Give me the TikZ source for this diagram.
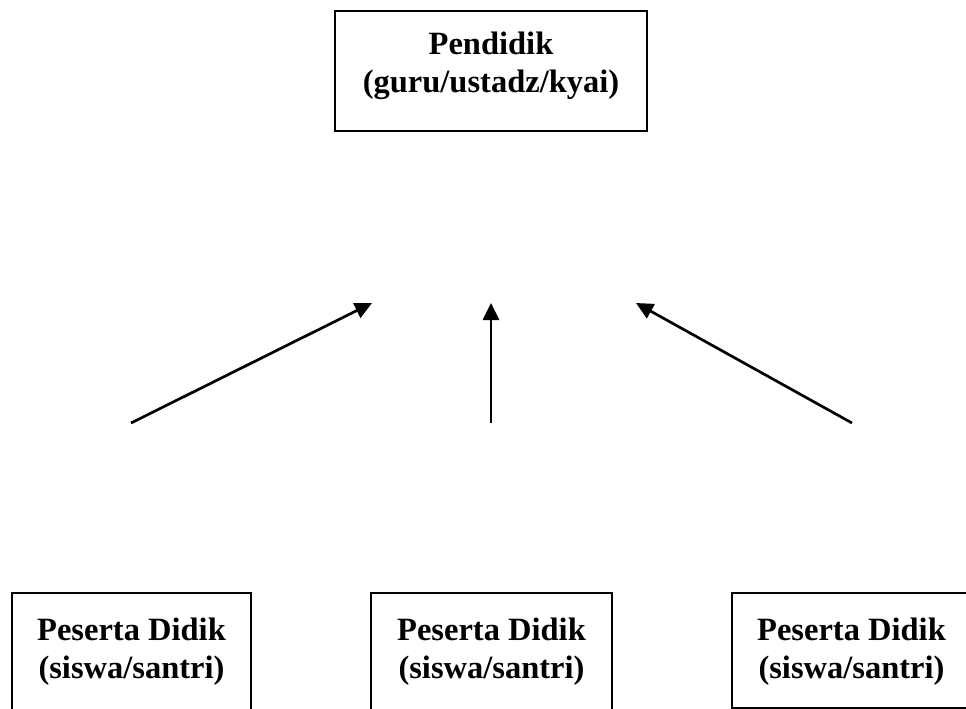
\documentclass[tikz,border=0pt]{standalone}
\usepackage{fontspec}
\setmainfont{Liberation Serif}
\usetikzlibrary{positioning}
\usetikzlibrary{arrows.meta}

\begin{document}
\begin{tikzpicture}[
    x=1pt, y=-1pt,
    kotak/.style={draw,line width=1.8pt,rectangle,inner sep=0pt},
    teks/.style={align=center,inner sep=0pt,font=\fontsize{32.5}{38}\selectfont\bfseries},
    panah/.style={line width=2.7pt,-{Triangle[length=17pt,width=16pt]}}
    ]
    \useasboundingbox (0,0) rectangle (966,709);

    \node[kotak, minimum width=312pt, minimum height=120pt] (guru) at (491,71) {};
    \node[teks, below=22pt of guru.north] (guruteks) {Pendidik\\(guru/ustadz/kyai)};

    \node[kotak, minimum width=239pt, minimum height=140pt, anchor=north] (santri1) at (131.5,592) {};
    \node[kotak, minimum width=241pt, minimum height=140pt, anchor=north] (santri2) at (491.5,592) {};
    \node[kotak, minimum width=239pt, minimum height=115pt, anchor=north] (santri3) at (851.5,592) {};
    \node[teks, below=26pt of santri1.north] (santriteks1) {Peserta Didik\\(siswa/santri)};
    \node[teks, below=26pt of santri2.north] (santriteks2) {Peserta Didik\\(siswa/santri)};
    \node[teks, below=26pt of santri3.north] (santriteks3) {Peserta Didik\\(siswa/santri)};

    \coordinate (a1) at (131,423);
    \coordinate (b1) at (372,303);
    \coordinate (a2) at (491,423);
    \coordinate (b2) at (491,303);
    \coordinate (a3) at (852,423);
    \coordinate (b3) at (636,303);

    \path (a1) edge[panah] (b1)
    (a2) edge[panah] (b2)
    (a3) edge[panah] (b3)
    ;

\end{tikzpicture}
\end{document}
